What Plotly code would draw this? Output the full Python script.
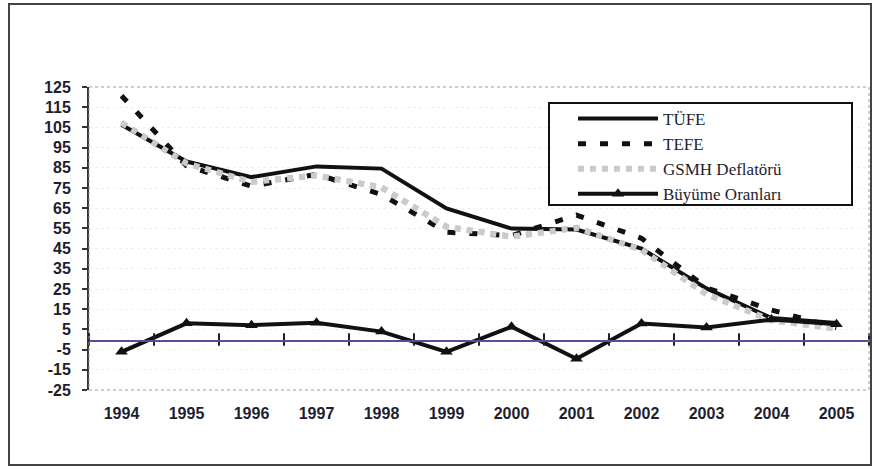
import plotly.graph_objects as go

# Annual rates (%) for Turkey, 1994-2005
years = ["1994", "1995", "1996", "1997", "1998", "1999",
         "2000", "2001", "2002", "2003", "2004", "2005"]
tufe = [106.3, 88.1, 80.4, 85.7, 84.6, 64.9, 54.9, 54.4, 45.0, 25.3, 10.6, 8.2]
tefe = [120.7, 86.0, 75.9, 81.8, 71.8, 53.1, 51.4, 61.6, 50.1, 25.6, 14.6, 5.9]
deflator = [107.3, 87.2, 78.0, 81.2, 75.3, 55.8, 50.9, 55.3, 44.4, 22.5, 9.5, 5.5]
buyume = [-6.1, 8.0, 7.1, 8.3, 3.9, -6.1, 6.3, -9.5, 7.9, 5.9, 9.9, 7.6]

y_ticks = list(range(-25, 126, 10))

W, H = 874, 469
ML, MR, MT, MB = 89, 5, 87, 79
PW, PH = W - ML - MR, H - MT - MB
n = len(years)
boundaries = [i - 0.5 for i in range(n + 1)]

AXIS_FONT = dict(family="Liberation Sans, Arial", size=16, color="#1e1e30", weight="bold")

fig = go.Figure()

# helper subplot whose bottom edge is the zero level: its x axis is the
# horizontal axis line, and small vertical marks sit between the years
fig.add_trace(go.Scatter(x=boundaries, y=[0] * len(boundaries), xaxis="x2", yaxis="y2",
                         mode="markers", cliponaxis=False,
                         marker=dict(symbol="line-ns", size=9,
                                     line=dict(color="#222222", width=2)),
                         showlegend=False, hoverinfo="skip"))

fig.add_trace(go.Scatter(x=years, y=deflator, mode="lines",
                         line=dict(color="#cbcbcf", width=6, dash="dot"),
                         showlegend=False, hoverinfo="skip"))
fig.add_trace(go.Scatter(x=years, y=tufe, name="TÜFE", mode="lines",
                         line=dict(color="#111111", width=4)))
fig.add_trace(go.Scatter(x=years, y=tefe, name="TEFE", mode="lines",
                         line=dict(color="#111111", width=5, dash="8px,14px")))
fig.add_trace(go.Scatter(x=years, y=deflator, name="GSMH Deflatörü", mode="lines",
                         line=dict(color="#cbcbcf", width=6, dash="dot")))
fig.add_trace(go.Scatter(x=years, y=buyume, name="Büyüme Oranları", mode="lines+markers",
                         line=dict(color="#111111", width=4),
                         marker=dict(symbol="triangle-up", size=11, color="#111111")))

zero_pos = (0 - y_ticks[0]) / (y_ticks[-1] - y_ticks[0])

# legend box in pixel terms
LX0, LX1, LY0, LY1 = 549, 852, 103, 205

fig.update_layout(
    width=W, height=H,
    margin=dict(l=ML, r=MR, t=MT, b=MB),
    paper_bgcolor="white", plot_bgcolor="rgba(0,0,0,0)",
    xaxis=dict(type="category", categoryarray=years, range=[-0.5, n - 0.5],
               showline=False, ticks="", showgrid=False, zeroline=False,
               tickfont=AXIS_FONT, ticklabelstandoff=12),
    yaxis=dict(range=[y_ticks[0], y_ticks[-1]], tickmode="array", tickvals=y_ticks,
               ticktext=[str(v) for v in y_ticks],
               showline=True, linecolor="#333333", linewidth=2,
               ticks="outside", ticklen=5, tickwidth=2, tickcolor="#333333",
               showgrid=True, gridcolor="#f1f1f5", griddash="dot", zeroline=False,
               tickfont=AXIS_FONT, ticklabelstandoff=8),
    xaxis2=dict(type="linear", range=[-0.5, n - 0.5], domain=[0, 1], anchor="y2",
                showticklabels=False, ticks="",
                showline=True, linecolor="#5b4b9e", linewidth=1.5,
                showgrid=False, zeroline=False),
    yaxis2=dict(domain=[zero_pos, 1], anchor="x2", range=[0, 1],
                showticklabels=False, showline=False, ticks="",
                showgrid=False, zeroline=False),
    legend=dict(x=(573 - ML) / PW, y=1 - (101 - MT) / PH,
                xanchor="left", yanchor="top",
                bgcolor="rgba(0,0,0,0)", borderwidth=0,
                itemwidth=80, tracegroupgap=0,
                font=dict(family="Liberation Serif, Times New Roman", size=17,
                          color="#1e1e30", weight="normal")),
    shapes=[
        # dotted plot-area frame
        dict(type="rect", xref="paper", yref="paper", x0=0, x1=1, y0=0, y1=1,
             line=dict(color="#9a9aa8", width=1, dash="dot")),
        # legend frame
        dict(type="rect", xref="paper", yref="paper",
             x0=(LX0 - ML) / PW, x1=(LX1 - ML) / PW,
             y0=1 - (LY1 - MT) / PH, y1=1 - (LY0 - MT) / PH,
             fillcolor="white", line=dict(color="#111111", width=2), layer="above"),
        # outer frame around the whole chart
        dict(type="rect", xref="paper", yref="paper",
             x0=(9 - ML) / PW, x1=(871 - ML) / PW,
             y0=1 - (465 - MT) / PH, y1=1 - (4 - MT) / PH,
             line=dict(color="#444444", width=2)),
    ],
)

fig.write_html("out.html")
